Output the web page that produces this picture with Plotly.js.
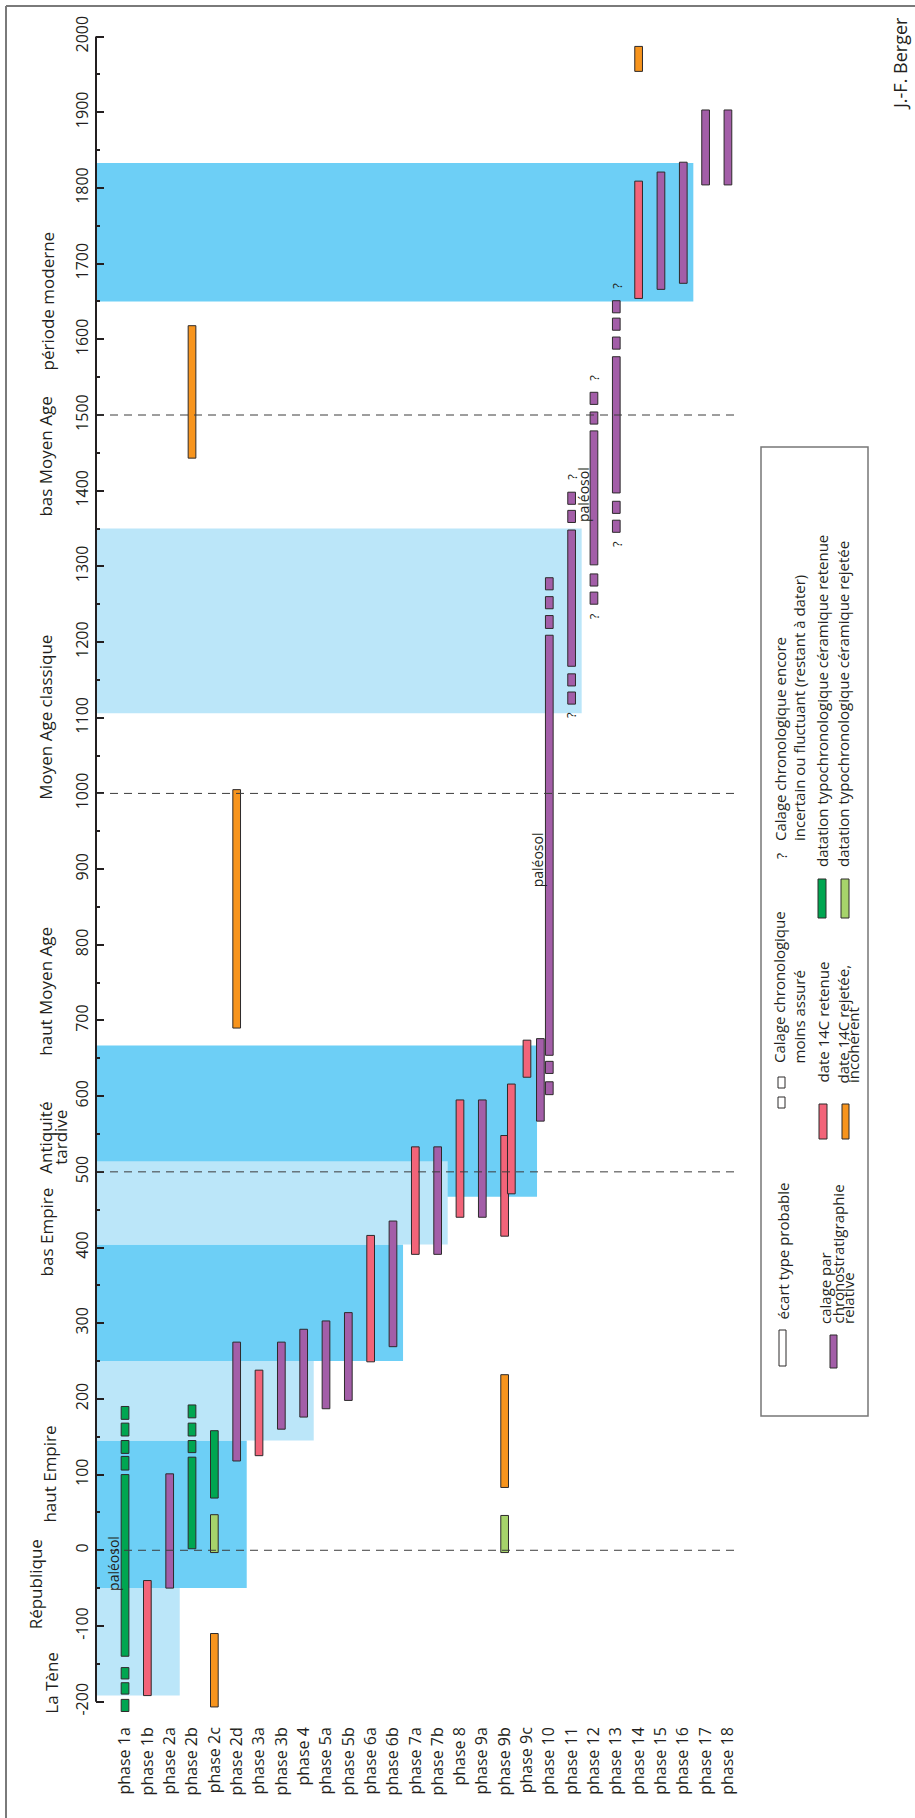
<!DOCTYPE html>
<html><head><meta charset="utf-8">
<script src="https://cdn.plot.ly/plotly-3.0.1.min.js"></script>
<style>html,body{margin:0;padding:0;background:#fff;overflow:hidden}#chart{width:915px;height:1818px}</style>
</head><body><div id="chart"></div>
<script>
// ---------------- DATA ----------------
const phases = ['phase 1a','phase 1b','phase 2a','phase 2b','phase 2c','phase 2d','phase 3a','phase 3b','phase 4','phase 5a','phase 5b','phase 6a','phase 6b','phase 7a','phase 7b','phase 8','phase 9a','phase 9b','phase 9c','phase 10','phase 11','phase 12','phase 13','phase 14','phase 15','phase 16','phase 17','phase 18'];

const yTickVals = [-200,-100,0,100,200,300,400,500,600,700,800,900,1000,1100,1200,1300,1400,1500,1600,1700,1800,1900,2000];
const yTickText = ['-200','-100','0','100','200','300','400','500','600','700','800','900','1000','1100','1200','1300','1400','1500','1600','1700','1800','1900','2000'];

// calage par chronostratigraphie relative (purple)
const purplePhase = ['phase 2a','phase 2d','phase 3b','phase 4','phase 5a','phase 5b','phase 6b','phase 7b','phase 9a','phase 10','phase 11','phase 12','phase 13','phase 15','phase 16','phase 17','phase 18'];
const purpleStart = [-50,118,160,176,187,198,269,391,440,654,1168,1302,1397,1666,1674,1804,1804];
const purpleEnd   = [101,275,275,292,303,314,435,533,595,1209,1348,1479,1577,1821,1834,1903,1903];
// second purple bar drawn beside the red one
const purpleBesidePhase = ['phase 9c'];
const purpleBesideStart = [567];
const purpleBesideEnd   = [676];
// calage moins assuré (small purple boxes)
const purpleUncPhase = ['phase 10','phase 10','phase 10','phase 10','phase 10','phase 11','phase 11','phase 11','phase 11','phase 12','phase 12','phase 12','phase 12','phase 13','phase 13','phase 13','phase 13','phase 13'];
const purpleUncStart = [602,630,1218,1244,1269,1118,1142,1358,1382,1250,1274,1488,1514,1345,1370,1587,1612,1635];
const purpleUncEnd   = [619,646,1235,1260,1285,1134,1158,1374,1398,1266,1290,1504,1530,1361,1386,1603,1628,1651];

// date 14C retenue (red)
const redPhase = ['phase 1b','phase 3a','phase 6a','phase 7a','phase 8','phase 9b','phase 9c','phase 14'];
const redStart = [-192,125,249,391,440,415,625,1654];
const redEnd   = [-40,238,416,533,595,548,674,1809];
const redBesidePhase = ['phase 9b'];
const redBesideStart = [471];
const redBesideEnd   = [616];

// date 14C rejetée, incohérent (orange)
const orangePhase = ['phase 2b','phase 2c','phase 2d','phase 9b','phase 14'];
const orangeStart = [1443,-207,690,83,1954];
const orangeEnd   = [1618,-110,1005,232,1987];

// datation typochronologique céramique retenue (green)
const greenPhase = ['phase 1a','phase 2b','phase 2c'];
const greenStart = [-140,2,69];
const greenEnd   = [100,123,158];
const greenUncPhase = ['phase 1a','phase 1a','phase 1a','phase 1a','phase 1a','phase 1a','phase 1a','phase 2b','phase 2b','phase 2b'];
const greenUncStart = [-213,-190,-170,106,128,151,173,129,151,175];
const greenUncEnd   = [-197,-175,-155,124,145,168,190,145,168,192];

// datation typochronologique céramique rejetée (light green)
const lgreenPhase = ['phase 2c','phase 9b'];
const lgreenStart = [-3,-3];
const lgreenEnd   = [47,46];

// historical periods (background bands)
const bandStart = [-192,-50,145,250,467,404,1106,1650];
const bandEnd   = [-50,145,250,404,667,514,1350,1833];
const bandLastPhase = ['phase 2a','phase 2d','phase 4','phase 6b','phase 9c','phase 7b','phase 11','phase 16'];
const bandShade = ['light','dark','light','dark','dark','light','light','dark'];

const periodNames = ['La Tène','République','haut Empire','bas Empire','Antiquité\ntardive','haut Moyen Age','Moyen Age classique','bas Moyen Age','période moderne'];
const periodMid   = [-175,-45,100,420,545,738,1100,1445,1650];

const dashYears = [0,500,1000,1500];

const qPhase = ['phase 11','phase 11','phase 12','phase 12','phase 13','phase 13'];
const qYear  = [1418,1103,1549,1234,1671,1330];

const paleoPhase = ['phase 1a','phase 10','phase 11'];
const paleoYear  = [-18,912,1395];

// ---------------- LAYOUT ----------------
const W=915,H=1818,ML=96,MR=175,MT=29,MB=105;
const PW=W-ML-MR, PH=H-MT-MB;
const YR=[-215,2010];
const XR=[-1.30,27.54];
function xp(px){return (px-ML)/PW;}
function yp(py){return (H-MB-py)/PH;}
const INK='#231f20';
const FONT='"Open Sans", "Noto Sans", sans-serif';
const BAR_W=0.345;
const C={purple:'#a35ea8',red:'#f26479',orange:'#f7941d',green:'#00a651',lgreen:'#a6d36b',dark:'#6dcff6',light:'#bbe6f9'};
const OUT='#2d2a2b';

function barTrace(ph,st,en,color,shift){
  const t={type:'bar',x:ph,base:st,y:en.map((e,i)=>e-st[i]),width:BAR_W,
    marker:{color:color,line:{color:OUT,width:1}},hoverinfo:'skip',showlegend:false};
  if(shift){t.offset=-BAR_W/2+shift;}
  return t;
}
const traces=[
  barTrace(purplePhase,purpleStart,purpleEnd,C.purple),
  barTrace(purpleUncPhase,purpleUncStart,purpleUncEnd,C.purple),
  barTrace(purpleBesidePhase,purpleBesideStart,purpleBesideEnd,C.purple,0.6),
  barTrace(redPhase,redStart,redEnd,C.red),
  barTrace(redBesidePhase,redBesideStart,redBesideEnd,C.red,0.3),
  barTrace(orangePhase,orangeStart,orangeEnd,C.orange),
  barTrace(greenPhase,greenStart,greenEnd,C.green),
  barTrace(greenUncPhase,greenUncStart,greenUncEnd,C.green),
  barTrace(lgreenPhase,lgreenStart,lgreenEnd,C.lgreen)
];

const shapes=[];
bandStart.forEach((s,i)=>{
  shapes.push({type:'rect',xref:'x',yref:'y',x0:XR[0],x1:phases.indexOf(bandLastPhase[i])+0.45,
    y0:s,y1:bandEnd[i],fillcolor:C[bandShade[i]],line:{width:0},layer:'below'});
});
dashYears.forEach(v=>{
  shapes.push({type:'line',xref:'paper',yref:'y',x0:0,x1:1,y0:v,y1:v,
    line:{color:'#3c3c3c',width:1,dash:'8px,6px'},layer:'above'});
});
// y axis line
shapes.push({type:'line',xref:'paper',yref:'y',x0:0,x1:0,y0:-200,y1:2000,line:{color:INK,width:2}});
// frame
shapes.push({type:'line',xref:'paper',yref:'paper',x0:xp(6),x1:xp(6),y0:yp(6),y1:yp(1818),line:{color:'#7a7a7a',width:2}});
shapes.push({type:'line',xref:'paper',yref:'paper',x0:xp(6),x1:xp(915),y0:yp(6),y1:yp(6),line:{color:'#7a7a7a',width:2}});
// legend box
function prect(x0,x1,y0,y1,fill,lw,lc){
  shapes.push({type:'rect',xref:'paper',yref:'paper',x0:xp(x0),x1:xp(x1),y0:yp(y1),y1:yp(y0),
    fillcolor:fill,line:{color:lc||OUT,width:lw===undefined?1:lw}});
}
prect(761,868,447,1416,'rgba(0,0,0,0)',1.5,'#777');
prect(779,786,1330,1366,'#ffffff');
prect(778,785,1077,1088,'#ffffff');
prect(778,785,1097,1108,'#ffffff');
prect(830,837,1335,1368,C.purple);
prect(819,827,1104,1139,C.red);
prect(842,849,1104,1139,C.orange);
prect(818,826,879,918,C.green);
prect(841,849,879,918,C.lgreen);

const ann=[];
function ptext(txt,cx,by,size){
  ann.push({xref:'paper',yref:'paper',x:xp(cx),y:yp(by),text:txt,textangle:-90,showarrow:false,
    xanchor:'center',yanchor:'bottom',borderpad:0,font:{family:FONT,size:size||15,color:INK}});
}
ptext('?',781,860,14);
ptext('Calage chronologique encore',780,842);
ptext('incertain ou fluctuant (restant à dater)',799,842);
ptext('datation typochronologique céramique retenue',822,868);
ptext('datation typochronologique céramique rejetée',843,868);
ptext('Calage chronologique',779,1064);
ptext('moins assuré',798,1064);
ptext('date 14C retenue',822,1084);
ptext('date 14C rejetée,',842,1084);
ptext('incohérent',853,1084);
ptext('écart type probable',782,1321);
ptext('calage par',825,1325);
ptext('chronostratigraphie',837,1325);
ptext('relative',848,1325);

// author
ann.push({xref:'paper',yref:'paper',x:xp(900),y:yp(64),text:'J.-F. Berger',textangle:-90,showarrow:false,
  xanchor:'center',yanchor:'middle',borderpad:0,font:{family:FONT,size:18,color:INK}});

// period labels
const PERIOD_X=[52,35,50,46,46,46,46,46,47];
periodNames.forEach((n,i)=>{
  n.split('\n').forEach((line,k)=>{
    ann.push({xref:'paper',yref:'y',x:xp(PERIOD_X[i]+k*15),y:periodMid[i],text:line,textangle:-90,showarrow:false,
      xanchor:'center',yanchor:'middle',borderpad:0,font:{family:FONT,size:17,color:INK}});
  });
});
// question marks
qPhase.forEach((p,i)=>{
  ann.push({xref:'x',yref:'y',x:p,y:qYear[i],text:'?',textangle:-90,showarrow:false,
    xanchor:'center',yanchor:'middle',borderpad:0,font:{family:FONT,size:13,color:INK}});
});
// paléosol
const PALEO_SHIFT=[-11,-12,12];
paleoPhase.forEach((p,i)=>{
  ann.push({xref:'x',yref:'y',x:p,y:paleoYear[i],xshift:PALEO_SHIFT[i],text:'paléosol',textangle:-90,showarrow:false,
    xanchor:'center',yanchor:'middle',borderpad:0,font:{family:FONT,size:14,color:INK}});
});

const layout={
  width:W,height:H,margin:{l:ML,r:MR,t:MT,b:MB,pad:0},
  paper_bgcolor:'#fff',plot_bgcolor:'rgba(0,0,0,0)',
  barmode:'overlay',showlegend:false,
  font:{family:FONT,color:INK},
  xaxis:{type:'category',categoryorder:'array',categoryarray:phases,range:XR,
    showgrid:false,zeroline:false,showline:false,ticks:'',tickangle:-90,
    tickfont:{family:FONT,size:16,color:INK},ticklabelstandoff:10,fixedrange:true},
  yaxis:{range:YR,showgrid:false,zeroline:false,showline:false,
    tickmode:'array',tickvals:yTickVals,ticktext:yTickText,
    ticks:'inside',ticklen:8,tickwidth:2,tickcolor:INK,tickangle:-90,
    tickfont:{family:FONT,size:16,color:INK},ticklabelstandoff:4,
    minor:{tickmode:'linear',tick0:50,dtick:100,ticks:'inside',ticklen:4,tickwidth:2,tickcolor:INK,showgrid:false},
    fixedrange:true},
  shapes:shapes,annotations:ann
};
Plotly.newPlot('chart',traces,layout,{displayModeBar:false,staticPlot:true});
</script></body></html>
